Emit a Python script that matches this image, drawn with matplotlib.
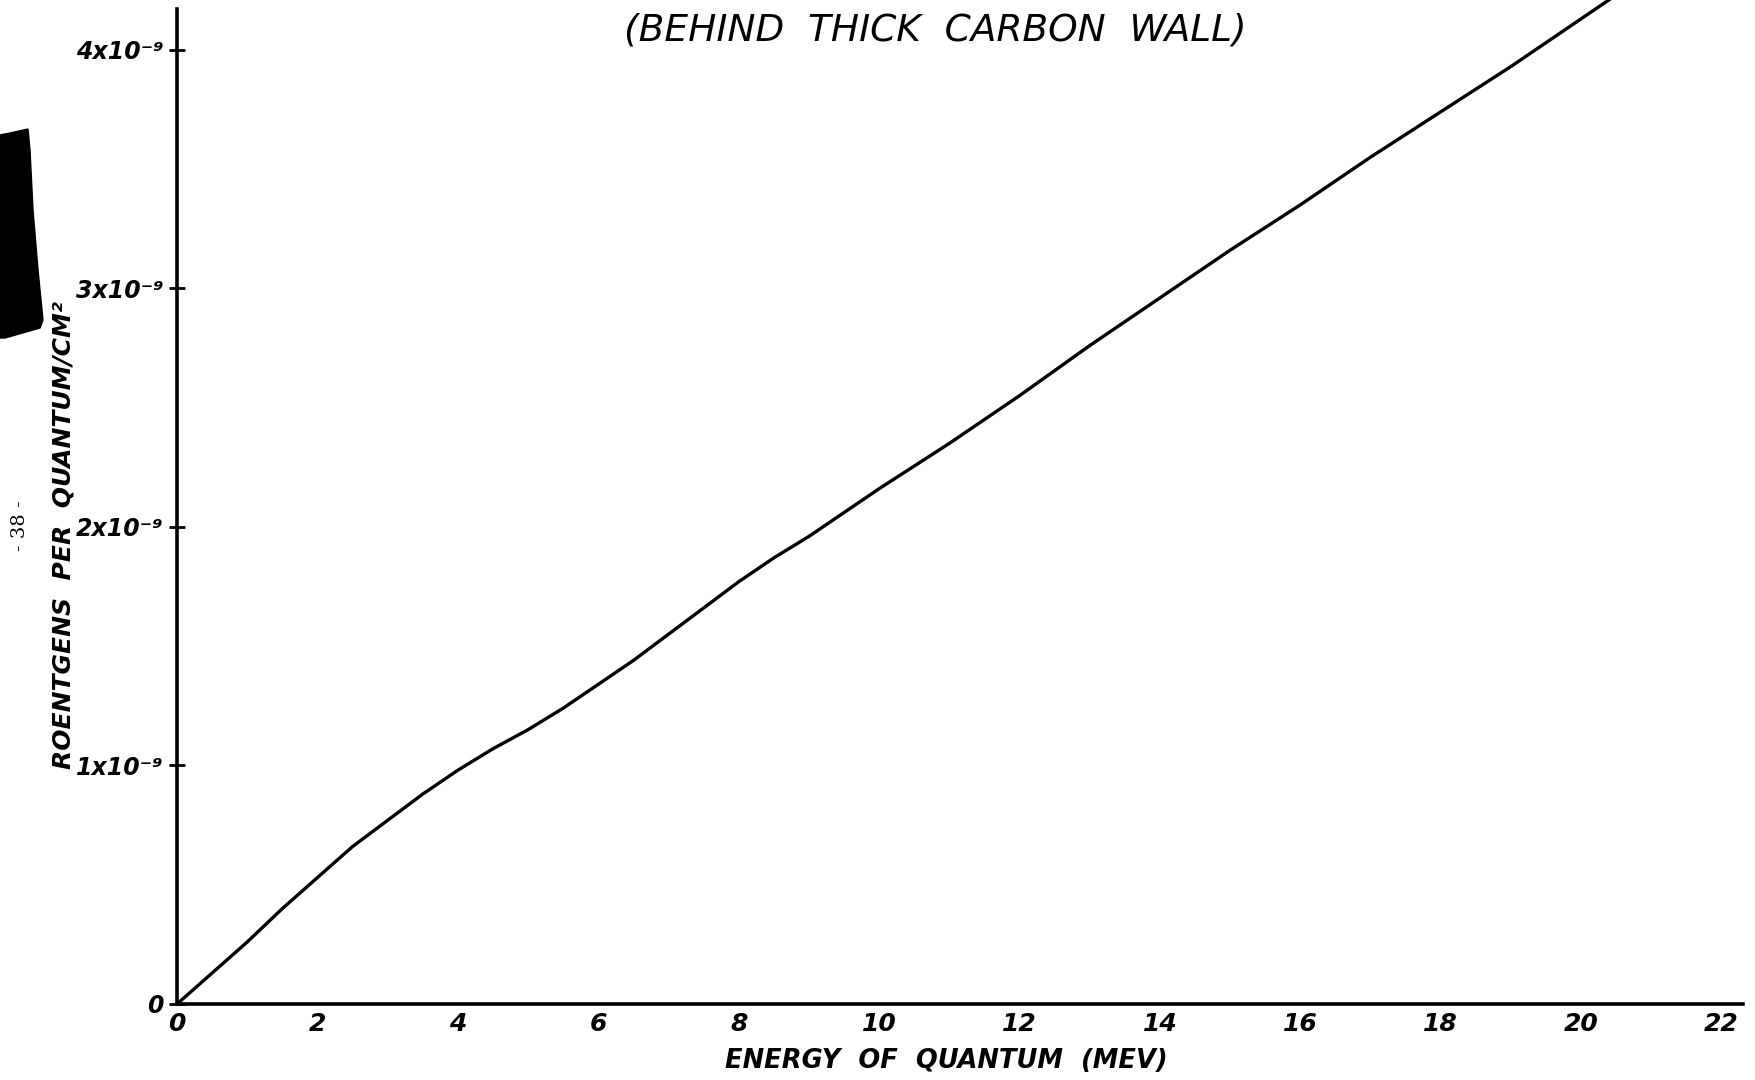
import numpy as np
import matplotlib.pyplot as plt
from matplotlib.patches import Polygon

# energy of quantum (MeV) and roentgens per quantum/cm^2 (in units of 1e-9)
energy = [0, 0.5, 1, 1.5, 2, 2.5, 3, 3.5, 4, 4.5, 5, 5.5, 6, 6.5, 7, 7.5,
          8, 8.5, 9, 10, 11, 12, 13, 14, 15, 16, 17, 18, 19, 20, 20.6]
roentgens = [0, 0.13, 0.26, 0.40, 0.53, 0.66, 0.77, 0.88, 0.98, 1.07, 1.15,
             1.24, 1.34, 1.44, 1.55, 1.66, 1.77, 1.87, 1.96, 2.16, 2.35,
             2.55, 2.76, 2.96, 3.16, 3.35, 3.55, 3.74, 3.93, 4.13, 4.25]

x_ticks = [0, 2, 4, 6, 8, 10, 12, 14, 16, 18, 20, 22]
y_ticks = [0, 1, 2, 3, 4]
y_ticklabels = ["0", "1x10⁻⁹", "2x10⁻⁹", "3x10⁻⁹", "4x10⁻⁹"]

plt.rcParams["font.family"] = "DejaVu Sans"

fig = plt.figure(figsize=(17.55, 10.8), dpi=100)
ax = fig.add_axes([0.1009, 0.0704, 0.892, 0.921])

ax.plot(energy, roentgens, color="black", linewidth=2.4, clip_on=False)

ax.set_xlim(0, 22.3)
ax.set_ylim(0, 4.17)

for s in ["top", "right"]:
    ax.spines[s].set_visible(False)
for s in ["left", "bottom"]:
    ax.spines[s].set_linewidth(2.6)
    ax.spines[s].set_color("black")

ax.set_xticks(x_ticks)
ax.set_xticklabels([str(v) for v in x_ticks], fontsize=18,
                   fontweight="bold", fontstyle="italic")
ax.tick_params(axis="x", length=0, pad=6)

ax.set_yticks(y_ticks)
ax.set_yticklabels(y_ticklabels, fontsize=17, fontweight="bold",
                   fontstyle="italic")
ax.tick_params(axis="y", direction="inout", length=12, width=2, pad=4)

fig.text(0.539, 0.0175, "ENERGY  OF  QUANTUM  (MEV)", ha="center",
         va="center", fontsize=18.5, fontweight="bold", fontstyle="italic")
fig.text(0.036, 0.505, "ROENTGENS  PER  QUANTUM/CM²", ha="center",
         va="center", rotation=90, fontsize=18, fontweight="bold",
         fontstyle="italic")
fig.text(0.533, 0.972, "(BEHIND  THICK  CARBON  WALL)", ha="center",
         va="center", fontsize=27, fontstyle="italic")

# page number and scan smudge on the left margin
fig.text(0.0114, 0.513, "- 38 -", ha="center", va="center", rotation=90,
         fontsize=14, family="DejaVu Serif")
blob = np.array([(0, 135), (10, 133), (28, 129), (30, 150), (33, 210),
                 (38, 270), (43, 320), (40, 328), (5, 338), (0, 338)])
blob = np.column_stack([blob[:, 0] / 1755, 1 - blob[:, 1] / 1080])
fig.patches.append(Polygon(blob, closed=True, transform=fig.transFigure,
                           facecolor="black", edgecolor="black"))

fig.savefig("out.png", dpi=100, facecolor="white")
